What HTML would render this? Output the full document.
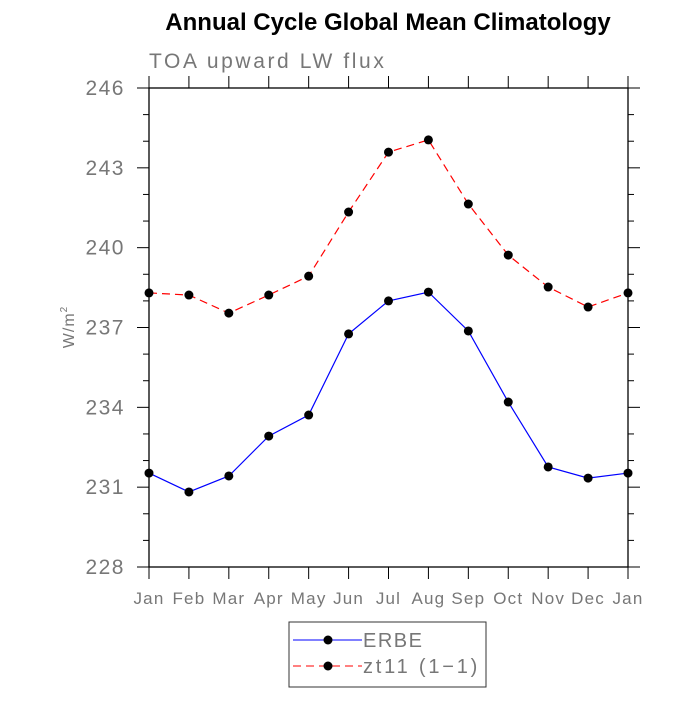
<!DOCTYPE html>
<html><head><meta charset="utf-8"><style>
body{margin:0;background:#fff;}
svg text{font-family:"Liberation Sans",sans-serif;}
</style></head><body>
<svg id="chart" width="700" height="700" viewBox="0 0 700 700">
<text x="388" y="30" text-anchor="middle" font-size="24" font-weight="bold" fill="#000">Annual Cycle Global Mean Climatology</text>
<text x="149" y="68" font-size="21" fill="#777" letter-spacing="2.6">TOA upward LW flux</text>
<text transform="translate(74,327) rotate(-90)" text-anchor="middle" font-size="16" fill="#777" letter-spacing="1">W/m<tspan font-size="10" dy="-7">2</tspan></text>
<g id="axes"></g>
<g id="series"></g>
<g>
<rect x="289" y="622" width="197" height="65" fill="none" stroke="#333" stroke-width="1"/>
<g>
<line x1="293" y1="640" x2="362" y2="640" stroke="#0000ff" stroke-width="1"/>
<circle cx="328" cy="640" r="4.5" fill="#000"/>
<text x="363" y="647" font-size="20" fill="#777" letter-spacing="1.5">ERBE</text></g>
<g>
<line x1="293" y1="666" x2="362" y2="666" stroke="#ff0000" stroke-width="1" stroke-dasharray="8,5"/>
<circle cx="328" cy="666" r="4.5" fill="#000"/>
<text x="363" y="673" font-size="20" fill="#777" letter-spacing="2.8">zt11 (1−1)</text></g>
</g>
</svg>
<script>
const months=["Jan","Feb","Mar","Apr","May","Jun","Jul","Aug","Sep","Oct","Nov","Dec","Jan"];
const erbe=[231.53,230.82,231.42,232.92,233.71,236.76,238.0,238.33,236.87,234.2,231.76,231.34,231.53];
const zt11=[238.30,238.22,237.54,238.22,238.93,241.34,243.59,244.05,241.64,239.72,238.52,237.77,238.30];
const yTicks=[228,231,234,237,240,243,246];
const NS="http://www.w3.org/2000/svg";
const L=149,R=628,T=88,B=567,ymin=228,ymax=246;
const xs=i=>L+(R-L)*i/(months.length-1);
const ys=v=>B-(B-T)*(v-ymin)/(ymax-ymin);
function mk(tag,at,parent){const e=document.createElementNS(NS,tag);for(const k in at)e.setAttribute(k,at[k]);parent.appendChild(e);return e;}
const ax=document.getElementById('axes');
const frame=mk('rect',{x:L,y:T,width:R-L,height:B-T,fill:'none',stroke:'#000','stroke-width':1.3},ax);


for(let v=ymin;v<=ymax;v++){
 const major=yTicks.includes(v);const len=major?12:6;const y=ys(v);
 mk('line',{x1:L-len,y1:y,x2:L,y2:y,stroke:'#000','stroke-width':1},ax);
 mk('line',{x1:R,y1:y,x2:R+len,y2:y,stroke:'#000','stroke-width':1},ax);
}
yTicks.forEach(v=>{const t=mk('text',{x:L-24,y:ys(v)+7,'text-anchor':'end','font-size':21,fill:'#777','letter-spacing':1.5},ax);t.textContent=v;

});
months.forEach((m,i)=>{const x=xs(i);
 mk('line',{x1:x,y1:B,x2:x,y2:B+12,stroke:'#000','stroke-width':1},ax);
 mk('line',{x1:x,y1:T-12,x2:x,y2:T,stroke:'#000','stroke-width':1},ax);
 const t=mk('text',{x:x,y:B+37,'text-anchor':'middle','font-size':17,fill:'#777','letter-spacing':1.2},ax);t.textContent=m;
 
 });
const sg=document.getElementById('series');
function series(vals,color,dash,name){
 const g=mk('g',{},sg);
 
 
 mk('polyline',{points:vals.map((v,i)=>xs(i)+','+ys(v)).join(' '),fill:'none',stroke:color,'stroke-width':1.2,'stroke-dasharray':dash},g);
 vals.forEach((v,i)=>{const c=mk('circle',{cx:xs(i),cy:ys(v),r:4.5,fill:'#000'},g);
 
 });
}
series(zt11,'#ff0000','8,5','series-zt11');
series(erbe,'#0000ff','none','series-erbe');
</script>
</body></html>
